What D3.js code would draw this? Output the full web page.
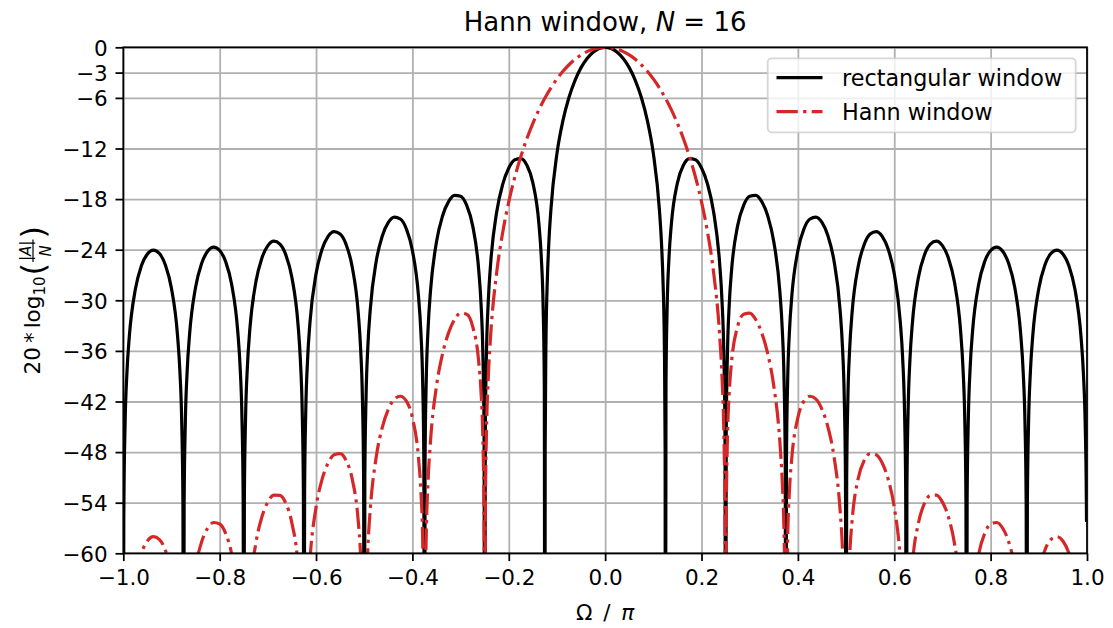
<!DOCTYPE html>
<html>
<head>
<meta charset="utf-8">
<script src="https://cdn.jsdelivr.net/npm/d3@7"></script>
<style>
  body { margin: 0; background: #fff; }
  svg { display: block; font-family: "DejaVu Sans", sans-serif; }
</style>
</head>
<body>
<div id="chart"></div>
<script>
// Configurations
const width = 1113;
const height = 628;
const margin = { top: 47.3, right: 26, bottom: 74.7, left: 123.3 };

const xTicks = [-1, -0.8, -0.6, -0.4, -0.2, 0, 0.2, 0.4, 0.6, 0.8, 1];
const yTicks = [0, -3, -6, -12, -18, -24, -30, -36, -42, -48, -54, -60];
const seriesNames = ["rectangular window", "Hann window"];

// magnitude in dB, [Omega/pi, dB]; -100 marks a null
const rectWindow = [
  [-1, -100], [-0.99902, -56.3], [-0.99875, -54.14], [-0.99625, -44.61], [-0.9925, -38.63], [-0.9875, -34.28],
  [-0.975, -28.70], [-0.9625, -25.91], [-0.95, -24.50], [-0.9375, -24.04], [-0.925, -24.46], [-0.9125, -25.84],
  [-0.9, -28.59], [-0.8875, -34.15], [-0.8825, -38.48], [-0.87875, -44.45], [-0.87625, -53.98], [-0.875, -100],
  [-0.87375, -53.97], [-0.87125, -44.43], [-0.8675, -38.44], [-0.8625, -34.08], [-0.85, -28.46], [-0.8375, -25.64],
  [-0.825, -24.19], [-0.8125, -23.70], [-0.8, -24.09], [-0.7875, -25.43], [-0.775, -28.15], [-0.7625, -33.66],
  [-0.7575, -37.99], [-0.75375, -43.95], [-0.75125, -53.46], [-0.75, -100],
  [-0.74875, -53.45], [-0.74625, -43.90], [-0.7425, -37.90], [-0.7375, -33.52], [-0.725, -27.87], [-0.7125, -25.01],
  [-0.7, -23.52], [-0.6875, -22.99], [-0.675, -23.34], [-0.6625, -24.64], [-0.65, -27.32], [-0.6375, -32.79],
  [-0.6325, -37.10], [-0.62875, -43.04], [-0.62625, -52.55], [-0.625, -100],
  [-0.62375, -52.53], [-0.62125, -42.97], [-0.6175, -36.96], [-0.6125, -32.56], [-0.6, -26.86], [-0.5875, -23.96],
  [-0.575, -22.42], [-0.5625, -21.85], [-0.55, -22.14], [-0.5375, -23.40], [-0.525, -26.02], [-0.5125, -31.44],
  [-0.5075, -35.72], [-0.50375, -41.65], [-0.50125, -51.15], [-0.5, -100],
  [-0.49875, -51.12], [-0.49625, -41.55], [-0.4925, -35.52], [-0.4875, -31.10], [-0.475, -25.34], [-0.4625, -22.37],
  [-0.45, -20.77], [-0.4375, -20.13], [-0.425, -20.36], [-0.4125, -21.54], [-0.4, -24.09], [-0.3875, -29.43],
  [-0.3825, -33.68], [-0.37875, -39.58], [-0.37625, -49.06], [-0.375, -100],
  [-0.37375, -49.01], [-0.37125, -39.43], [-0.3675, -33.37], [-0.3625, -28.92], [-0.35, -23.06], [-0.3375, -20.00],
  [-0.325, -18.30], [-0.3125, -17.55], [-0.3, -17.66], [-0.2875, -18.72], [-0.275, -21.14], [-0.2625, -26.34],
  [-0.2575, -30.53], [-0.25375, -36.39], [-0.25125, -45.84], [-0.25, -100],
  [-0.24875, -45.76], [-0.24625, -36.14], [-0.2425, -30.04], [-0.2375, -25.52], [-0.225, -19.49], [-0.2125, -16.23],
  [-0.2, -14.32], [-0.1875, -13.34], [-0.175, -13.20], [-0.1625, -13.97], [-0.15, -16.07], [-0.1375, -20.90],
  [-0.1325, -24.93], [-0.12875, -30.66], [-0.12625, -40.03], [-0.125, -100],
  [-0.1245, -47.8], [-0.123, -35.73], [-0.12, -27.58], [-0.1175, -23.90], [-0.1125, -19.18], [-0.1, -12.58],
  [-0.0875, -8.66], [-0.075, -5.92], [-0.0625, -3.91], [-0.05, -2.41], [-0.0375, -1.32], [-0.025, -0.58],
  [-0.0125, -0.14], [0, 0],
  [0.0125, -0.14], [0.025, -0.58], [0.0375, -1.32], [0.05, -2.41], [0.0625, -3.91], [0.075, -5.92],
  [0.0875, -8.66], [0.1, -12.58], [0.1125, -19.18], [0.1175, -23.90], [0.12, -27.58], [0.123, -35.73],
  [0.1245, -47.8], [0.125, -100],
  [0.12625, -40.03], [0.12875, -30.66], [0.1325, -24.93], [0.1375, -20.90], [0.15, -16.07], [0.1625, -13.97],
  [0.175, -13.20], [0.1875, -13.34], [0.2, -14.32], [0.2125, -16.23], [0.225, -19.49], [0.2375, -25.52],
  [0.2425, -30.04], [0.24625, -36.14], [0.24875, -45.76], [0.25, -100],
  [0.25125, -45.84], [0.25375, -36.39], [0.2575, -30.53], [0.2625, -26.34], [0.275, -21.14], [0.2875, -18.72],
  [0.3, -17.66], [0.3125, -17.55], [0.325, -18.30], [0.3375, -20.00], [0.35, -23.06], [0.3625, -28.92],
  [0.3675, -33.37], [0.37125, -39.43], [0.37375, -49.01], [0.375, -100],
  [0.37625, -49.06], [0.37875, -39.58], [0.3825, -33.68], [0.3875, -29.43], [0.4, -24.09], [0.4125, -21.54],
  [0.425, -20.36], [0.4375, -20.13], [0.45, -20.77], [0.4625, -22.37], [0.475, -25.34], [0.4875, -31.10],
  [0.4925, -35.52], [0.49625, -41.55], [0.49875, -51.12], [0.5, -100],
  [0.50125, -51.15], [0.50375, -41.65], [0.5075, -35.72], [0.5125, -31.44], [0.525, -26.02], [0.5375, -23.40],
  [0.55, -22.14], [0.5625, -21.85], [0.575, -22.42], [0.5875, -23.96], [0.6, -26.86], [0.6125, -32.56],
  [0.6175, -36.96], [0.62125, -42.97], [0.62375, -52.53], [0.625, -100],
  [0.62625, -52.55], [0.62875, -43.04], [0.6325, -37.10], [0.6375, -32.79], [0.65, -27.32], [0.6625, -24.64],
  [0.675, -23.34], [0.6875, -22.99], [0.7, -23.52], [0.7125, -25.01], [0.725, -27.87], [0.7375, -33.52],
  [0.7425, -37.90], [0.74625, -43.90], [0.74875, -53.45], [0.75, -100],
  [0.75125, -53.46], [0.75375, -43.95], [0.7575, -37.99], [0.7625, -33.66], [0.775, -28.15], [0.7875, -25.43],
  [0.8, -24.09], [0.8125, -23.70], [0.825, -24.19], [0.8375, -25.64], [0.85, -28.46], [0.8625, -34.08],
  [0.8675, -38.44], [0.87125, -44.43], [0.87375, -53.97], [0.875, -100],
  [0.87625, -53.98], [0.87875, -44.45], [0.8825, -38.48], [0.8875, -34.15], [0.9, -28.59], [0.9125, -25.84],
  [0.925, -24.46], [0.9375, -24.04], [0.95, -24.50], [0.9625, -25.91], [0.975, -28.70], [0.9875, -34.28],
  [0.9925, -38.63], [0.99625, -44.61], [0.99875, -54.14], [0.99902, -56.3]
];

const hannWindow = [
  [-1, -100], [-0.9875, -68.43], [-0.975, -62.83], [-0.9625, -60.00], [-0.95, -58.54], [-0.9375, -58.03],
  [-0.925, -58.37], [-0.9125, -59.66], [-0.9, -62.32], [-0.8875, -67.75], [-0.875, -100],
  [-0.8625, -67.41], [-0.85, -61.64], [-0.8375, -58.65], [-0.825, -57.03], [-0.8125, -56.35], [-0.8, -56.53],
  [-0.7875, -57.66], [-0.775, -60.15], [-0.7625, -65.43], [-0.75, -100],
  [-0.7375, -64.78], [-0.725, -58.85], [-0.7125, -55.71], [-0.7, -53.93], [-0.6875, -53.09], [-0.675, -53.13],
  [-0.6625, -54.10], [-0.65, -56.45], [-0.6375, -61.57], [-0.625, -100],
  [-0.6175, -65.16], [-0.6125, -60.61], [-0.6, -54.53], [-0.5875, -51.24], [-0.575, -49.30], [-0.5625, -48.31],
  [-0.55, -48.18], [-0.5375, -49.00], [-0.525, -51.17], [-0.5125, -56.13], [-0.5075, -60.22], [-0.50375, -66.0],
  [-0.5, -100],
  [-0.49625, -65.61], [-0.4925, -59.43], [-0.4875, -54.82], [-0.475, -48.55], [-0.4625, -45.06], [-0.45, -42.92],
  [-0.4375, -41.72], [-0.425, -41.38], [-0.4125, -41.96], [-0.4, -43.90], [-0.3875, -48.60], [-0.3825, -52.58],
  [-0.37875, -58.29], [-0.375, -100],
  [-0.37375, -67.45], [-0.37125, -57.73], [-0.3675, -51.46], [-0.3625, -46.73], [-0.35, -40.16], [-0.3375, -36.35],
  [-0.325, -33.86], [-0.3125, -32.28], [-0.3, -31.52], [-0.2875, -31.65], [-0.275, -33.08], [-0.2625, -37.23],
  [-0.2575, -40.97], [-0.25375, -46.49], [-0.25125, -55.71], [-0.25, -100],
  [-0.24875, -55.44], [-0.24625, -45.53], [-0.2425, -39.06], [-0.2375, -34.05], [-0.225, -26.66], [-0.2125, -21.92],
  [-0.2, -18.32], [-0.1875, -15.40], [-0.175, -12.95], [-0.1625, -10.84], [-0.15, -9.01], [-0.1375, -7.42],
  [-0.125, -6.02], [-0.1125, -4.80], [-0.1, -3.75], [-0.0875, -2.84], [-0.075, -2.07], [-0.0625, -1.42],
  [-0.05, -0.91], [-0.0375, -0.51], [-0.025, -0.22], [-0.0125, -0.06], [0, 0],
  [0.0125, -0.06], [0.025, -0.22], [0.0375, -0.51], [0.05, -0.91], [0.0625, -1.42], [0.075, -2.07],
  [0.0875, -2.84], [0.1, -3.75], [0.1125, -4.80], [0.125, -6.02], [0.1375, -7.42], [0.15, -9.01],
  [0.1625, -10.84], [0.175, -12.95], [0.1875, -15.40], [0.2, -18.32], [0.2125, -21.92], [0.225, -26.66],
  [0.2375, -34.05], [0.2425, -39.06], [0.24625, -45.53], [0.24875, -55.44], [0.25, -100],
  [0.25125, -55.71], [0.25375, -46.49], [0.2575, -40.97], [0.2625, -37.23], [0.275, -33.08], [0.2875, -31.65],
  [0.3, -31.52], [0.3125, -32.28], [0.325, -33.86], [0.3375, -36.35], [0.35, -40.16], [0.3625, -46.73],
  [0.3675, -51.46], [0.37125, -57.73], [0.37375, -67.45], [0.375, -100],
  [0.37875, -58.29], [0.3825, -52.58], [0.3875, -48.60], [0.4, -43.90], [0.4125, -41.96], [0.425, -41.38],
  [0.4375, -41.72], [0.45, -42.92], [0.4625, -45.06], [0.475, -48.55], [0.4875, -54.82], [0.4925, -59.43],
  [0.49625, -65.61], [0.5, -100],
  [0.50375, -66.0], [0.5075, -60.22], [0.5125, -56.13], [0.525, -51.17], [0.5375, -49.00], [0.55, -48.18],
  [0.5625, -48.31], [0.575, -49.30], [0.5875, -51.24], [0.6, -54.53], [0.6125, -60.61], [0.6175, -65.16],
  [0.625, -100],
  [0.6375, -61.57], [0.65, -56.45], [0.6625, -54.10], [0.675, -53.13], [0.6875, -53.09], [0.7, -53.93],
  [0.7125, -55.71], [0.725, -58.85], [0.7375, -64.78], [0.75, -100],
  [0.7625, -65.43], [0.775, -60.15], [0.7875, -57.66], [0.8, -56.53], [0.8125, -56.35], [0.825, -57.03],
  [0.8375, -58.65], [0.85, -61.64], [0.8625, -67.41], [0.875, -100],
  [0.8875, -67.75], [0.9, -62.32], [0.9125, -59.66], [0.925, -58.37], [0.9375, -58.03], [0.95, -58.54],
  [0.9625, -60.00], [0.975, -62.83], [0.9875, -68.43], [0.99902, -90]
];

const fontTick = 21.5;
const gridColor = "#b0b0b0";
const minus = s => String(s).replace("-", "\u2212");

const svg = d3.select("#chart")
  .append("svg")
  .attr("width", width)
  .attr("height", height);

const xScale = d3.scaleLinear().domain([-1, 1]).range([margin.left, width - margin.right]);
const yScale = d3.scaleLinear().domain([-60, 0]).range([height - margin.bottom, margin.top]);

// Griglia
svg.append("g")
  .attr("transform", `translate(0,${height - margin.bottom})`)
  .call(d3.axisBottom(xScale).tickValues(xTicks).tickSize(-(height - margin.top - margin.bottom)).tickFormat(""))
  .call(g => g.select(".domain").remove())
  .selectAll("line")
  .attr("stroke", gridColor)
  .attr("stroke-width", 1.78);

svg.append("g")
  .attr("transform", `translate(${margin.left},0)`)
  .call(d3.axisLeft(yScale).tickValues(yTicks).tickSize(-(width - margin.left - margin.right)).tickFormat(""))
  .call(g => g.select(".domain").remove())
  .selectAll("line")
  .attr("stroke", gridColor)
  .attr("stroke-width", 1.78);

// Curve
svg.append("clipPath")
  .attr("id", "plot-clip")
  .append("rect")
  .attr("x", margin.left)
  .attr("y", margin.top)
  .attr("width", width - margin.left - margin.right)
  .attr("height", height - margin.top - margin.bottom);

const line = d3.line()
  .x(d => xScale(d[0]))
  .y(d => yScale(d[1]))
  .curve(d3.curveMonotoneX);

const plot = svg.append("g").attr("clip-path", "url(#plot-clip)");

plot.append("path")
  .datum(rectWindow)
  .attr("d", line)
  .attr("fill", "none")
  .attr("stroke", "#000")
  .attr("stroke-width", 3.2)
  .attr("stroke-linejoin", "round");

plot.append("path")
  .datum(hannWindow)
  .attr("d", line)
  .attr("fill", "none")
  .attr("stroke", "#d62728")
  .attr("stroke-width", 3.2)
  .attr("stroke-linejoin", "round")
  .attr("stroke-dasharray", "21.3,5.3,3.3,5.3");

// Assi
const xAxis = svg.append("g")
  .attr("transform", `translate(0,${height - margin.bottom})`)
  .call(d3.axisBottom(xScale).tickValues(xTicks).tickSize(7.8).tickPadding(7.8).tickFormat(d => minus(d.toFixed(1))));

const yAxis = svg.append("g")
  .attr("transform", `translate(${margin.left},0)`)
  .call(d3.axisLeft(yScale).tickValues(yTicks).tickSize(7.8).tickPadding(7.8).tickFormat(d => minus(d)));

[xAxis, yAxis].forEach(g => {
  g.select(".domain").remove();
  g.selectAll("line").attr("stroke", "#000").attr("stroke-width", 1.78);
  g.selectAll("text")
    .attr("fill", "#000")
    .attr("font-family", "DejaVu Sans")
    .attr("font-size", fontTick);
});
xAxis.selectAll("text").attr("dy", "0.76em");
yAxis.selectAll("text").attr("dy", "0.36em");

// cornice
svg.append("rect")
  .attr("x", margin.left)
  .attr("y", margin.top)
  .attr("width", width - margin.left - margin.right)
  .attr("height", height - margin.top - margin.bottom)
  .attr("fill", "none")
  .attr("stroke", "#000")
  .attr("stroke-width", 1.78);

// Titolo
const title = svg.append("text")
  .attr("x", (margin.left + width - margin.right) / 2)
  .attr("y", 30.7)
  .attr("text-anchor", "middle")
  .attr("font-size", 26)
  .attr("fill", "#000");
title.append("tspan").text("Hann window, ");
title.append("tspan").attr("font-style", "italic").text("N");
title.append("tspan").text(" = 16");

// x label
const xLab = svg.append("text")
  .attr("x", (margin.left + width - margin.right) / 2)
  .attr("y", 620)
  .attr("text-anchor", "middle")
  .attr("font-size", fontTick)
  .attr("fill", "#000");
xLab.append("tspan").text("\u03a9\u2002/\u2002");
xLab.append("tspan").attr("font-style", "italic").text("\u03c0");

// y label: 20 * log10(|A| / N), built piece by piece
const yLabOuter = svg.append("g")
  .attr("transform", `translate(39.5,${(margin.top + height - margin.bottom) / 2}) rotate(-90)`);
const yLab = yLabOuter.append("g");
let cx = 0;
const piece = (txt, size, dy, italic) => {
  const t = yLab.append("text")
    .attr("x", cx)
    .attr("y", dy)
    .attr("font-size", size)
    .attr("font-style", italic ? "italic" : "normal")
    .attr("fill", "#000")
    .text(txt);
  cx += t.node().getComputedTextLength();
  return t;
};
piece("20", fontTick, 0);
cx += 4;
piece("*", fontTick, 0);
cx += 4;
piece("log", fontTick, 0);
piece("10", 15, 5);
cx += 1;
piece("(", 32, 4);
const fracX = cx + 1;
const numTxt = yLab.append("text").attr("y", -9).attr("font-size", 15).attr("fill", "#000");
numTxt.append("tspan").text("|");
numTxt.append("tspan").attr("font-style", "italic").text("A");
numTxt.append("tspan").text("|");
const numW = numTxt.node().getComputedTextLength();
const denTxt = yLab.append("text").attr("y", 11).attr("font-size", 15).attr("font-style", "italic").attr("fill", "#000").text("N");
const denW = denTxt.node().getComputedTextLength();
const fracW = Math.max(numW, denW) + 2;
numTxt.attr("x", fracX + (fracW - numW) / 2);
denTxt.attr("x", fracX + (fracW - denW) / 2);
yLab.append("line")
  .attr("x1", fracX).attr("x2", fracX + fracW)
  .attr("y1", -6.5).attr("y2", -6.5)
  .attr("stroke", "#000").attr("stroke-width", 1.2);
cx = fracX + fracW + 1;
piece(")", 32, 4);
yLab.attr("transform", `translate(${-cx / 2},0)`);

// Legenda
const legend = svg.append("g");
legend.append("rect")
  .attr("x", 767.7)
  .attr("y", 58.3)
  .attr("width", 308)
  .attr("height", 74)
  .attr("rx", 4)
  .attr("fill", "#fff")
  .attr("fill-opacity", 0.8)
  .attr("stroke", "#cccccc")
  .attr("stroke-opacity", 0.8)
  .attr("stroke-width", 1.78);

const legendStyles = [
  { color: "#000", dash: null },
  { color: "#d62728", dash: "21.3,5.3,3.3,5.3" }
];
seriesNames.forEach((name, i) => {
  const yy = 77.7 + i * 34;
  legend.append("line")
    .attr("x1", 776.5).attr("x2", 822.5)
    .attr("y1", yy).attr("y2", yy)
    .attr("stroke", legendStyles[i].color)
    .attr("stroke-width", 3.2)
    .attr("stroke-dasharray", legendStyles[i].dash);
  legend.append("text")
    .attr("x", 842)
    .attr("y", yy)
    .attr("dy", "0.36em")
    .attr("font-size", 22.3)
    .attr("fill", "#000")
    .text(name);
});
</script>
</body>
</html>
